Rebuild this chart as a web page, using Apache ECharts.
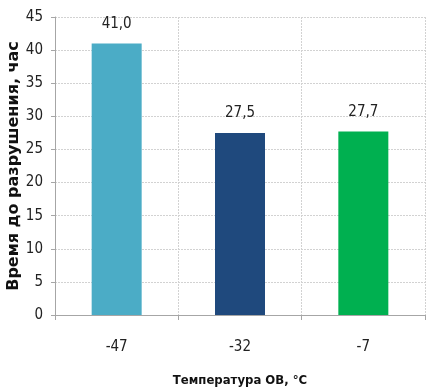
<!DOCTYPE html>
<html>
<head>
<meta charset="utf-8">
<script src="https://cdn.jsdelivr.net/npm/echarts@6/dist/echarts.min.js"></script>
<style>
  html, body { margin: 0; padding: 0; background: #fff; }
  #chart { width: 426px; height: 391px; }
</style>
</head>
<body>
<div id="chart"></div>
<script>
// Temperature of the sample (°C) and time to failure (hours)
const categories = ['-47', '-32', '-7'];
const values = [41.0, 27.5, 27.7];
const barColors = ['#4bacc6', '#1f497d', '#00b050'];
const yTicks = { min: 0, max: 45, interval: 5 };

const FONT = '"DejaVu Sans Condensed", "Liberation Sans", Arial, sans-serif';
const fmt = v => v.toFixed(1).replace('.', ',');

const chart = echarts.init(document.getElementById('chart'));
chart.setOption({
  animation: false,
  grid: { left: 55, right: 1, top: 17, bottom: 76, outerBoundsMode: 'none', containLabel: false },
  xAxis: {
    type: 'category',
    data: categories,
    name: 'Температура ОВ, °С',
    nameLocation: 'middle',
    nameGap: 59,
    nameMoveOverlap: false,
    nameTextStyle: { fontFamily: FONT, fontSize: 13, fontWeight: 'bold', color: '#111' },
    axisLine: { lineStyle: { color: '#a6a6a6', width: 1 } },
    axisTick: { show: true, length: 5, lineStyle: { color: '#a6a6a6' } },
    axisLabel: { fontFamily: FONT, fontSize: 15, color: '#222', margin: 25 },
    splitLine: { show: true, lineStyle: { color: '#d2d2d2', type: [2, 1], width: 1 } }
  },
  yAxis: {
    type: 'value',
    min: yTicks.min,
    max: yTicks.max,
    interval: yTicks.interval,
    name: 'Время до разрушения, час',
    nameLocation: 'middle',
    nameGap: 33,
    nameMoveOverlap: false,
    nameTextStyle: { fontFamily: '"DejaVu Sans", "Liberation Sans", Arial, sans-serif', fontSize: 16, fontWeight: 'bold', color: '#111' },
    axisLine: { show: true, lineStyle: { color: '#a6a6a6', width: 1 } },
    axisTick: { show: true, length: 4, lineStyle: { color: '#a6a6a6' } },
    axisLabel: { fontFamily: FONT, fontSize: 15, color: '#222', margin: 12 },
    splitLine: { show: true, lineStyle: { color: '#d2d2d2', type: [2, 1], width: 1 } }
  },
  series: [{
    type: 'bar',
    barWidth: 50,
    data: values.map((v, i) => ({ value: v, itemStyle: { color: barColors[i] } })),
    label: {
      show: true,
      position: 'top',
      distance: 12,
      fontFamily: FONT,
      fontSize: 15,
      color: '#222',
      formatter: p => fmt(p.value)
    }
  }]
});
</script>
</body>
</html>
